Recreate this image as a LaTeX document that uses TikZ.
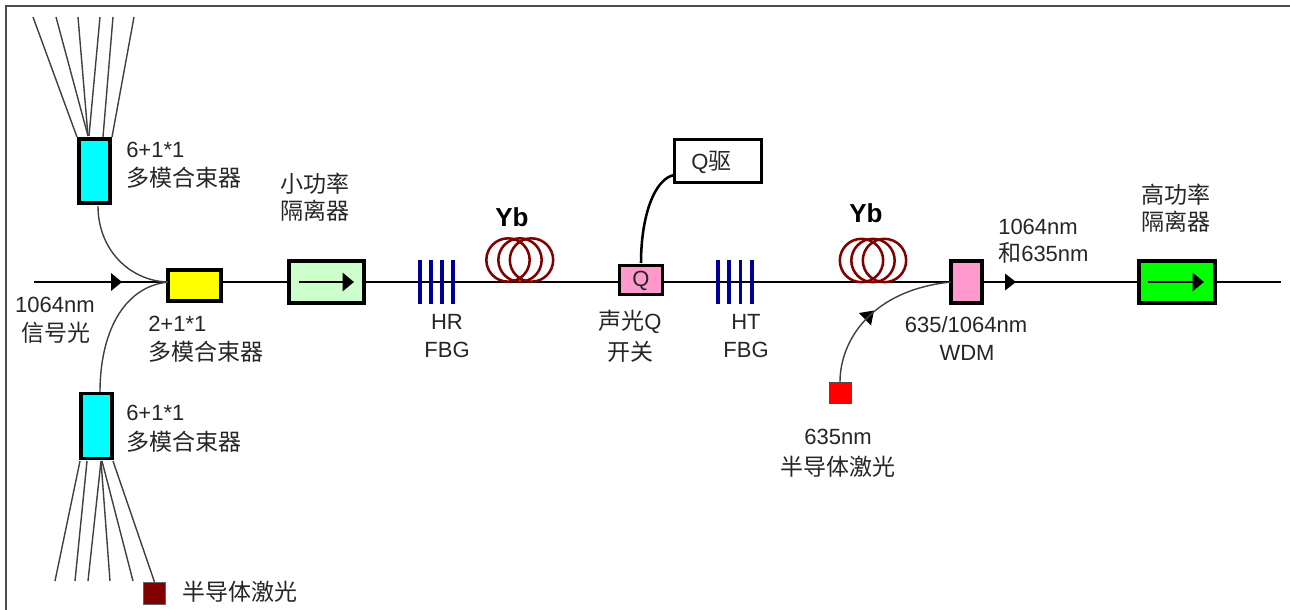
\documentclass[tikz,border=0pt]{standalone}
\usepackage{fontspec}
\setmainfont{Liberation Sans}
\newfontfamily\cjkfam{Noto Sans CJK SC}
\usetikzlibrary{arrows.meta}
\newcommand{\zh}[1]{{\cjkfam\fontsize{17.25}{20}\selectfont #1}}
\definecolor{coilred}{HTML}{800000}
\definecolor{fbgblue}{HTML}{000099}
\definecolor{pinkbox}{HTML}{FF99CC}
\definecolor{cyanbox}{HTML}{00FFFF}
\definecolor{yellowbox}{HTML}{FFFF00}
\definecolor{greenbox}{HTML}{00FF00}
\definecolor{redbox}{HTML}{FF0000}
\definecolor{palegreen}{HTML}{CCFFCC}
\tikzset{
  boxsize/.style 2 args={minimum width=#1*0.75pt,minimum height=#2*0.75pt,inner sep=0pt,outer sep=0pt},
  comp/.style={draw=black,line width=2.8pt},
  fiber/.style={draw=black,line width=2pt},
  thinfiber/.style={draw=black!75,line width=1.05pt},
  grating/.style={draw=fbgblue,line width=2.3pt},
  coil/.style={draw=coilred,line width=1.9pt,circle,minimum size=32.5pt,inner sep=0pt,fill=none},
  txt/.style={inner sep=0pt,font=\fontsize{16.5}{20}\selectfont,text=black!85},
  ztxt/.style={inner sep=0pt,font=\fontsize{16.5}{20}\selectfont,text=black!85},
  ybtxt/.style={inner sep=0pt,font=\bfseries\fontsize{19.5}{23}\selectfont},
  arrowin/.style={draw=black,line width=2pt,-{Triangle[length=8.5pt,width=13.5pt]}}
}
\begin{document}
\begin{tikzpicture}[x=0.75pt,y=-0.75pt]
\useasboundingbox (0,0) rectangle (1290,610);
\fill[white] (0,0) rectangle (1290,610);
\draw[black!70,line width=1.2pt] (6,610) -- (6,6) -- (1290,6);

% main line reference points
\coordinate (start) at (34,282);
\coordinate (finish) at (1281,282);

% components
\node[comp,fill=cyanbox,boxsize={31}{64}] (cu) at (94.5,171) {};
\node[comp,fill=cyanbox,boxsize={31}{65}] (cl) at (96.5,426) {};
\node[comp,fill=yellowbox,boxsize={53}{31}] (yel) at (194.5,285.5) {};
\node[comp,fill=palegreen,boxsize={75}{42}] (iso) at (326.5,282) {};
\node[comp,line width=2.4pt,fill=pinkbox,boxsize={43}{29}] (qsw) at (641,280) {};
\node[comp,line width=2.4pt,fill=white,boxsize={87}{43}] (qdrv) at (718,161) {};
\node[txt,anchor=west] (qdrvt) at (691,162) {Q\zh{驱}};
\node[comp,fill=pinkbox,boxsize={31}{42}] (wdm) at (966.5,282) {};
\node[comp,fill=greenbox,boxsize={76}{42}] (isoh) at (1177,282) {};
\node[draw=black!70,line width=0.7pt,fill=redbox,boxsize={22}{21}] (red) at (840,392.5) {};
\node[draw=black!60,line width=0.7pt,fill=coilred,boxsize={22}{22}] (dred) at (154.5,593) {};

% main fibre
\draw[fiber] (start) -- (start -| yel.west);
\draw[fiber] (start -| yel.east) -- (start -| iso.west);
\draw[fiber] (start -| iso.east) -- (start -| qsw.west);
\draw[fiber] (start -| qsw.east) -- (start -| wdm.west);
\draw[fiber] (start -| wdm.east) -- (start -| isoh.west);
\draw[fiber] (start -| isoh.east) -- (finish);

% coils
\foreach \n/\cx in {a/508,b/520,c/531.5}{\node[coil] (coil1\n) at (\cx,260) {};}
\foreach \n/\cx in {a/861.5,b/873,c/884.5}{\node[coil] (coil2\n) at (\cx,260.5) {};}

% gratings
\foreach \gx in {420,431,442,453,718,729,740.5,752}{\draw[grating] (\gx,260) -- (\gx,304);}

% arrows on lines
\fill[black] (111,273) -- (122,282) -- (111,291) -- cycle;
\fill[black] (1005,273.5) -- (1016,282) -- (1005,290.5) -- cycle;
\fill[black] (859,313) -- (874,310.5) -- (871,325.5) -- cycle;

% Q label above main fibre
\node[font=\fontsize{16.5}{20}\selectfont,text=black!85,inner sep=0pt] (qlab) at (641,281) {Q};

% isolator arrows
\coordinate (isoa) at (299,282); \coordinate (isob) at (354,282);
\coordinate (isoc) at (1148,282); \coordinate (isod) at (1204,282);
\draw[arrowin] (isoa) -- (isob);
\draw[arrowin] (isoc) -- (isod);

% curved fibres
\draw[thinfiber] (98,206) .. controls (98,250) and (130,281) .. (yel.west |- start);
\draw[thinfiber] (100,392) .. controls (100,335) and (122,287) .. (yel.west |- start);
\draw[thinfiber] (red.north) .. controls (840,340) and (872,290) .. (wdm.west |- start);
\draw[black,line width=1.9pt] (641,263) .. controls (641,215) and (655,178) .. (qdrv.west |- 0,175);

% upper fan
\foreach \n/\tx/\bx/\by in {a/33/77/137,b/56/88/136,c/78/88/136,d/100/89/136,e/113/103/137,f/134/112/137}{
  \coordinate (ut\n) at (\tx,17);
  \coordinate (ub\n) at (\bx,\by);
  \draw[thinfiber] (ut\n) -- (ub\n);
}
% lower fan
\foreach \n/\tx/\bx in {a/55/80,b/75/87,c/88/101,d/110/101,e/133/102}{
  \coordinate (lb\n) at (\tx,581);
  \coordinate (lt\n) at (\bx,461);
  \draw[thinfiber] (lt\n) -- (lb\n);
}
\coordinate (ltf) at (113,461);
\draw[thinfiber] (ltf) -- (dred.north);

% labels
\node[txt,anchor=west] (l1) at (126,150) {6+1*1};
\node[ztxt,anchor=west] (l2) at (126,178) {\zh{多模合束器}};
\node[ztxt] (l3) at (315,184) {\zh{小功率}};
\node[ztxt] (l4) at (315,211) {\zh{隔离器}};
\node[txt] (l5) at (55,305) {1064nm};
\node[ztxt] (l6) at (56,333) {\zh{信号光}};
\node[txt,anchor=west] (l7) at (148,324) {2+1*1};
\node[ztxt,anchor=west] (l8) at (148,352) {\zh{多模合束器}};
\node[txt,anchor=west] (l9) at (126,413) {6+1*1};
\node[ztxt,anchor=west] (l10) at (126,442) {\zh{多模合束器}};
\node[ztxt,anchor=west] (l11) at (182,592) {\zh{半导体激光}};
\node[ybtxt] (yb1) at (512,217) {Yb};
\node[ybtxt] (yb2) at (866,213) {Yb};
\node[txt] (l12) at (447,322) {HR};
\node[txt] (l13) at (447,350) {FBG};
\node[ztxt] (l14) at (630,322) {\zh{声光}Q};
\node[ztxt] (l15) at (630,352) {\zh{开关}};
\node[txt] (l16) at (746,322) {HT};
\node[txt] (l17) at (746,350) {FBG};
\node[txt] (l18) at (966,325) {635/1064nm};
\node[txt] (l19) at (967,353) {WDM};
\node[txt,anchor=west] (l20) at (998,227) {1064nm};
\node[txt,anchor=west] (l21) at (998,253) {\zh{和}635nm};
\node[ztxt] (l22) at (1176,195) {\zh{高功率}};
\node[ztxt] (l23) at (1176,222) {\zh{隔离器}};
\node[txt] (l24) at (838,437) {635nm};
\node[ztxt] (l25) at (838,467) {\zh{半导体激光}};
\end{tikzpicture}
\end{document}
